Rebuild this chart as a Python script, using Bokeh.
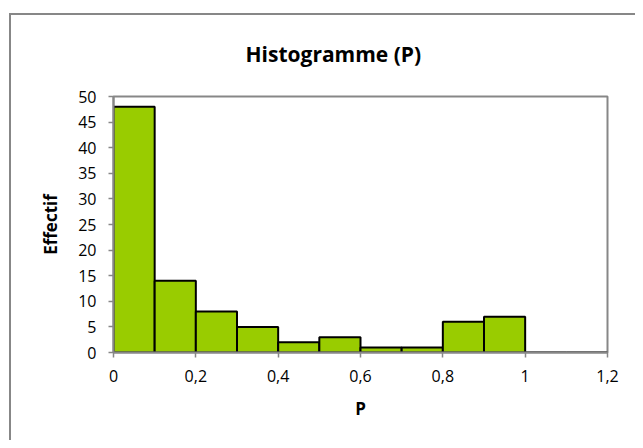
from bokeh.plotting import figure
from bokeh.models import FixedTicker, Range1d, Title
from bokeh.embed import file_html
from bokeh.resources import INLINE

bin_left = [0.0, 0.1, 0.2, 0.3, 0.4, 0.5, 0.6, 0.7, 0.8, 0.9, 1.0, 1.1]
bin_right = [0.1, 0.2, 0.3, 0.4, 0.5, 0.6, 0.7, 0.8, 0.9, 1.0, 1.1, 1.2]
counts = [48, 14, 8, 5, 2, 3, 1, 1, 6, 7, 0, 0]
x_ticks = [0, 0.2, 0.4, 0.6, 0.8, 1, 1.2]
x_tick_labels = ["0", "0,2", "0,4", "0,6", "0,8", "1", "1,2"]
y_ticks = [0, 5, 10, 15, 20, 25, 30, 35, 40, 45, 50]

FONT = "Open Sans"
GRAY = "#878787"

p = figure(width=635, height=440, output_backend="svg", toolbar_location=None,
           x_range=Range1d(0, 1.2), y_range=Range1d(0, 50),
           min_border_left=113, min_border_right=28, min_border_top=96, min_border_bottom=88)

p.quad(left=bin_left, right=bin_right, bottom=0, top=counts,
       fill_color="#99CC00", line_color="black", line_width=2)

title = Title(text="Histogramme (P)", align="left", offset=132,
              text_font=FONT, text_font_size="21px", text_font_style="bold",
              text_color="black", standoff=58)
p.add_layout(title, "above")

p.xgrid.visible = False
p.ygrid.visible = False
p.outline_line_color = GRAY
p.outline_line_width = 2
p.background_fill_color = "white"
p.border_fill_color = None

# outer chart-area border (left and top edges visible, right/bottom beyond window)
p.styles = {
    "background-color": "white",
    "background-image": f"linear-gradient({GRAY},{GRAY}), linear-gradient({GRAY},{GRAY})",
    "background-size": "2px 100%, 100% 2px",
    "background-position": "9px 13px, 9px 13px",
    "background-repeat": "no-repeat",
}

for ax in (p.xaxis[0], p.yaxis[0]):
    ax.axis_line_color = GRAY
    ax.axis_line_width = 2
    ax.major_tick_line_color = GRAY
    ax.major_tick_line_width = 1.5
    ax.major_tick_in = 0
    ax.major_tick_out = 5
    ax.minor_tick_line_color = None
    ax.major_label_text_font = FONT
    ax.major_label_text_font_size = "16px"
    ax.major_label_text_color = "black"
    ax.axis_label_text_font = FONT
    ax.axis_label_text_font_style = "bold"
    ax.axis_label_text_font_size = "17px"
    ax.axis_label_text_color = "black"

p.xaxis.ticker = FixedTicker(ticks=x_ticks)
p.xaxis.major_label_overrides = {t: l for t, l in zip(x_ticks, x_tick_labels)}
p.xaxis.axis_label = "P"
p.xaxis.major_label_standoff = 12
p.xaxis.axis_label_standoff = 12

p.yaxis.ticker = FixedTicker(ticks=y_ticks)
p.yaxis.axis_label = "Effectif"
p.yaxis.major_label_standoff = 12
p.yaxis.axis_label_standoff = 13

open("out.html", "w").write(file_html(p, INLINE))
